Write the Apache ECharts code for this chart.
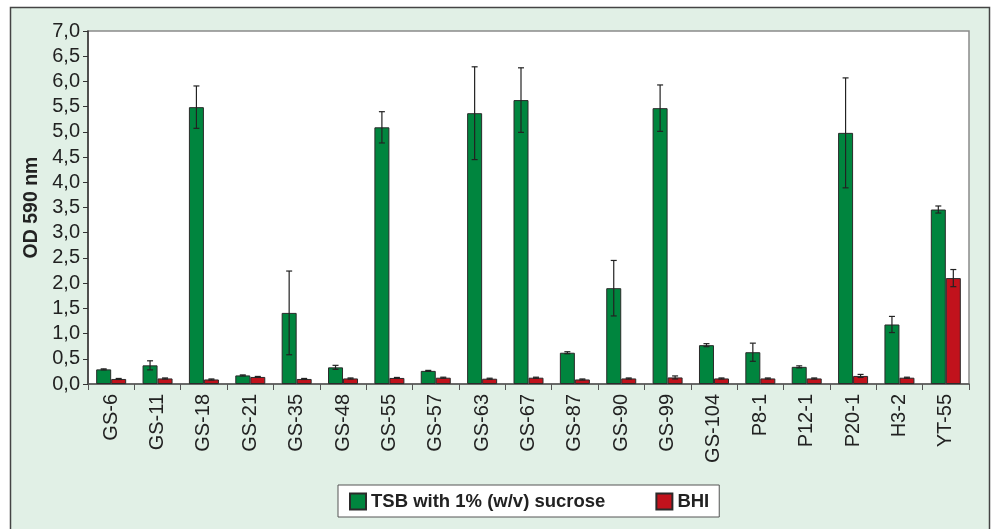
<!DOCTYPE html>
<html>
<head>
<meta charset="utf-8">
<script src="https://cdn.jsdelivr.net/npm/echarts@6/dist/echarts.min.js"></script>
<style>
  html, body { margin: 0; padding: 0; background: #fff; }
  #chart { width: 993px; height: 529px; }
</style>
</head>
<body>
<div id="chart"></div>
<script>
// Strains tested
const strains = ['GS-6', 'GS-11', 'GS-18', 'GS-21', 'GS-35', 'GS-48', 'GS-55', 'GS-57', 'GS-63', 'GS-67',
  'GS-87', 'GS-90', 'GS-99', 'GS-104', 'P8-1', 'P12-1', 'P20-1', 'H3-2', 'YT-55'];

// Mean OD 590 nm, TSB with 1% (w/v) sucrose
const tsbMean = [0.29, 0.37, 5.49, 0.17, 1.41, 0.33, 5.09, 0.26, 5.37, 5.63,
  0.62, 1.90, 5.47, 0.77, 0.63, 0.34, 4.98, 1.18, 3.46];
// Standard deviation, TSB
const tsbSd = [0.01, 0.09, 0.42, 0.01, 0.83, 0.04, 0.31, 0.01, 0.92, 0.64,
  0.02, 0.55, 0.46, 0.03, 0.18, 0.02, 1.09, 0.16, 0.07];

// Mean OD 590 nm, BHI
const bhiMean = [0.10, 0.11, 0.09, 0.14, 0.10, 0.11, 0.12, 0.125, 0.105, 0.125,
  0.09, 0.11, 0.13, 0.11, 0.11, 0.11, 0.16, 0.125, 2.10];
// Standard deviation, BHI
const bhiSd = [0.01, 0.01, 0.01, 0.01, 0.01, 0.01, 0.01, 0.01, 0.01, 0.01,
  0.01, 0.01, 0.03, 0.01, 0.01, 0.01, 0.03, 0.01, 0.17];

const seriesNames = ['TSB with 1% (w/v) sucrose', 'BHI'];
const FONT = '"Liberation Sans", Arial, sans-serif';
const BAR_W = 15;

// Draws a vertical error bar with caps, shifted to sit over its own bar
function errorBarRenderer(means, sds, shift) {
  return function (params, api) {
    const i = api.value(0);
    const lo = api.coord([i, means[i] - sds[i]]);
    const hi = api.coord([i, means[i] + sds[i]]);
    const x = hi[0] + shift;
    const cap = 3;
    const style = { stroke: '#222', lineWidth: 1.2 };
    return {
      type: 'group',
      children: [
        { type: 'line', shape: { x1: x, y1: hi[1], x2: x, y2: lo[1] }, style },
        { type: 'line', shape: { x1: x - cap, y1: hi[1], x2: x + cap, y2: hi[1] }, style },
        { type: 'line', shape: { x1: x - cap, y1: lo[1], x2: x + cap, y2: lo[1] }, style }
      ]
    };
  };
}

const chart = echarts.init(document.getElementById('chart'));
chart.setOption({
  backgroundColor: '#fff',
  animation: false,
  textStyle: { fontFamily: FONT },
  graphic: [{
    type: 'rect',
    z: -100,
    shape: { x: 10.5, y: 7.5, width: 979, height: 600 },
    style: { fill: '#e1f0e6', stroke: '#444', lineWidth: 1.5 }
  }],
  grid: {
    left: 88, right: 24, top: 31, bottom: 145,
    show: true, backgroundColor: '#fff', borderColor: '#8a8a8a', borderWidth: 1.5
  },
  legend: {
    data: seriesNames,
    left: 338, top: 485,
    backgroundColor: '#fff',
    borderColor: '#555', borderWidth: 1,
    borderRadius: 0,
    padding: [7, 10, 6, 11],
    itemGap: 50,
    itemWidth: 16, itemHeight: 16,
    icon: 'rect',
    textStyle: { fontFamily: FONT, fontSize: 18.5, fontWeight: 'bold', color: '#222' }
  },
  xAxis: {
    type: 'category',
    data: strains,
    axisLine: { lineStyle: { color: '#555', width: 1.5 } },
    axisTick: { show: true, alignWithLabel: false, length: 6, lineStyle: { color: '#555' } },
    axisLabel: { rotate: 90, fontSize: 20, color: '#222', margin: 10, fontFamily: FONT, interval: 0 }
  },
  yAxis: {
    type: 'value',
    min: 0, max: 7, interval: 0.5,
    name: 'OD 590 nm',
    nameLocation: 'middle',
    nameGap: 44,
    nameTextStyle: { fontSize: 19.5, fontWeight: 'bold', color: '#222', fontFamily: FONT },
    axisLine: { show: true, lineStyle: { color: '#333', width: 1.5 } },
    axisTick: { show: true, length: 5, lineStyle: { color: '#333' } },
    splitLine: { show: false },
    axisLabel: {
      fontSize: 20, color: '#222', margin: 8, fontFamily: FONT,
      formatter: v => v.toFixed(1).replace('.', ',')
    }
  },
  series: [
    {
      name: seriesNames[0], type: 'bar', data: tsbMean,
      barWidth: BAR_W, barGap: '0%',
      itemStyle: { color: '#00853e', borderColor: '#2a2a2a', borderWidth: 1 }
    },
    {
      name: seriesNames[1], type: 'bar', data: bhiMean,
      barWidth: BAR_W, barGap: '0%',
      itemStyle: { color: '#c1121c', borderColor: '#2a2a2a', borderWidth: 1 }
    },
    {
      type: 'custom', z: 5,
      data: strains.map((s, i) => [i]),
      renderItem: errorBarRenderer(tsbMean, tsbSd, -BAR_W / 2),
      encode: { x: 0 }, silent: true
    },
    {
      type: 'custom', z: 5,
      data: strains.map((s, i) => [i]),
      renderItem: errorBarRenderer(bhiMean, bhiSd, BAR_W / 2),
      encode: { x: 0 }, silent: true
    }
  ]
});
</script>
</body>
</html>
